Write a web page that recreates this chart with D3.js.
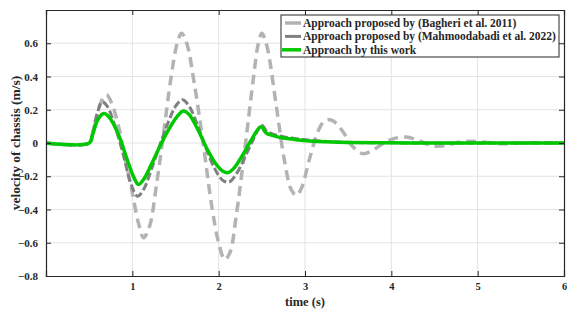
<!DOCTYPE html>
<html>
<head>
<meta charset="utf-8">
<script src="https://cdn.jsdelivr.net/npm/d3@7"></script>
<style>
  body { margin: 0; background: #fff; }
  text { font-family: "Liberation Serif", "Times New Roman", serif; font-weight: bold; fill: #262626; }
</style>
</head>
<body>
<div id="chart"></div>
<script>
// time samples (s) and chassis velocity (m/s)
var tBagheri = [0, 0.5, 0.54, 0.58, 0.64, 0.7, 0.76, 0.84, 0.92, 1.0, 1.07, 1.13, 1.2, 1.28, 1.36, 1.45, 1.52, 1.57, 1.63, 1.72, 1.82, 1.92, 2.0, 2.07, 2.13, 2.2, 2.3, 2.4, 2.46, 2.5, 2.56, 2.66, 2.76, 2.84, 2.9, 2.96, 3.05, 3.15, 3.22, 3.29, 3.36, 3.45, 3.55, 3.67, 3.78, 3.9, 4.02, 4.17, 4.3, 4.42, 4.52, 4.65, 4.8, 4.95, 5.1, 5.25, 5.4, 5.6, 5.8, 6];
var vBagheri = [0, 0, 0.06, 0.15, 0.25, 0.29, 0.24, 0.1, -0.1, -0.3, -0.48, -0.57, -0.5, -0.25, 0.05, 0.4, 0.6, 0.66, 0.6, 0.35, 0.0, -0.38, -0.6, -0.7, -0.66, -0.45, -0.05, 0.38, 0.6, 0.66, 0.58, 0.25, -0.1, -0.28, -0.315, -0.27, -0.1, 0.07, 0.13, 0.14, 0.12, 0.06, -0.02, -0.064, -0.045, -0.005, 0.025, 0.036, 0.018, -0.008, -0.02, -0.012, 0.006, 0.01, 0.004, -0.004, -0.003, 0.002, 0.001, 0];

var tMahmood = [0, 0.5, 0.54, 0.59, 0.65, 0.71, 0.8, 0.9, 0.98, 1.06, 1.13, 1.22, 1.32, 1.42, 1.5, 1.58, 1.66, 1.76, 1.86, 1.96, 2.05, 2.12, 2.2, 2.3, 2.4, 2.5, 2.55, 2.62, 2.75, 2.9, 3.05, 3.3, 3.6, 4.0, 4.5, 5.0, 6];
var vMahmood = [0, 0, 0.06, 0.17, 0.247, 0.22, 0.1, -0.08, -0.24, -0.32, -0.28, -0.16, -0.01, 0.13, 0.22, 0.26, 0.22, 0.1, -0.04, -0.16, -0.225, -0.235, -0.19, -0.09, 0.02, 0.107, 0.075, 0.055, 0.038, 0.026, 0.017, 0.008, 0.003, 0.001, 0, 0, 0];

var tThisWork = [0, 0.5, 0.54, 0.6, 0.67, 0.74, 0.84, 0.94, 1.02, 1.07, 1.13, 1.22, 1.32, 1.42, 1.52, 1.59, 1.66, 1.76, 1.86, 1.96, 2.05, 2.11, 2.18, 2.28, 2.38, 2.49, 2.55, 2.62, 2.75, 2.9, 3.02, 3.25, 3.5, 3.9, 4.5, 5.0, 6];
var vThisWork = [0, 0, 0.05, 0.14, 0.177, 0.15, 0.05, -0.1, -0.21, -0.25, -0.22, -0.13, -0.02, 0.08, 0.16, 0.193, 0.17, 0.08, -0.03, -0.12, -0.17, -0.178, -0.15, -0.07, 0.02, 0.098, 0.06, 0.046, 0.03, 0.02, 0.013, 0.007, 0.003, 0.001, 0, 0, 0];

var seriesNames = ['Approach proposed by (Bagheri et al. 2011)', 'Approach proposed by (Mahmoodabadi et al. 2022)', 'Approach by this work'];
var xTicks = [1, 2, 3, 4, 5, 6];
var yTicks = [-0.8, -0.6, -0.4, -0.2, 0, 0.2, 0.4, 0.6, 0.8];

var width = 567, height = 311;
var margin = { top: 10, right: 3, bottom: 35, left: 46 };
var innerW = width - margin.left - margin.right,
  innerH = height - margin.top - margin.bottom;

var svg = d3.select('#chart').append('svg')
  .attr('width', width)
  .attr('height', height);

var g = svg.append('g')
  .attr('transform', 'translate(' + margin.left + ',' + margin.top + ')');

var x = d3.scaleLinear().domain([0, 6]).range([0, innerW]);
var y = d3.scaleLinear().domain([-0.8, 0.8]).range([innerH, 0]);

// grid
g.append('g').selectAll('line').data(xTicks.slice(0, -1)).enter().append('line')
  .attr('x1', function(d) { return x(d); }).attr('x2', function(d) { return x(d); })
  .attr('y1', 0).attr('y2', innerH)
  .attr('stroke', '#e3e3e3').attr('stroke-width', 1);
g.append('g').selectAll('line').data(yTicks.slice(1, -1)).enter().append('line')
  .attr('y1', function(d) { return y(d); }).attr('y2', function(d) { return y(d); })
  .attr('x1', 0).attr('x2', innerW)
  .attr('stroke', '#e3e3e3').attr('stroke-width', 1);

// series
var series = [
  { t: tBagheri, v: vBagheri, color: '#b3b3b3', width: 3.5, dash: '10,6' },
  { t: tMahmood, v: vMahmood, color: '#808080', width: 3, dash: '8,3' },
  { t: tThisWork, v: vThisWork, color: '#00c800', width: 3.5, dash: null }
];

var line = d3.line()
  .x(function(d) { return x(d[0]); })
  .y(function(d) { return y(d[1]); })
  .curve(d3.curveCatmullRom.alpha(0.5));

series.forEach(function(s) {
  g.append('path')
    .datum(d3.zip(s.t, s.v))
    .attr('d', line)
    .attr('fill', 'none')
    .attr('stroke', s.color)
    .attr('stroke-width', s.width)
    .attr('stroke-dasharray', s.dash);
});

// axes (box with ticks on all sides)
var xAxis = g.append('g')
  .attr('transform', 'translate(0,' + innerH + ')')
  .call(d3.axisBottom(x).tickValues(xTicks).tickSize(-5).tickPadding(7).tickFormat(d3.format('d')));
var xTop = g.append('g')
  .call(d3.axisTop(x).tickValues(xTicks).tickSize(-5).tickFormat(''));
var yAxis = g.append('g')
  .call(d3.axisLeft(y).tickValues(yTicks.slice(0, -1)).tickSize(-5).tickPadding(8)
    .tickFormat(function(d) { return d === 0 ? '0' : d3.format('.1f')(d); }));
var yRight = g.append('g')
  .attr('transform', 'translate(' + innerW + ',0)')
  .call(d3.axisRight(y).tickValues(yTicks).tickSize(-5).tickFormat(''));

[xAxis, xTop, yAxis, yRight].forEach(function(a) {
  a.select('.domain').attr('stroke', '#262626').attr('stroke-width', 1.2);
  a.selectAll('.tick line').attr('stroke', '#262626');
  a.selectAll('text').style('font-size', '11px').attr('font-family', null).attr('fill', '#262626');
});
xAxis.selectAll('text').style('font-size', '10.5px');

// axis labels
svg.append('text')
  .attr('x', margin.left + innerW / 2)
  .attr('y', 306)
  .attr('text-anchor', 'middle')
  .style('font-size', '12.5px')
  .text('time (s)');

svg.append('text')
  .attr('transform', 'translate(20,' + (margin.top + innerH / 2) + ') rotate(-90)')
  .attr('text-anchor', 'middle')
  .style('font-size', '13.5px')
  .text('velocity of chassis (m/s)');

// legend
var legend = svg.append('g').attr('transform', 'translate(281,15)');
legend.append('rect')
  .attr('width', 278).attr('height', 42)
  .attr('fill', '#fff').attr('stroke', '#262626').attr('stroke-width', 1);

var items = legend.selectAll('.legend').data(series).enter().append('g')
  .attr('transform', function(d, i) { return 'translate(0,' + (8 + i * 13.4) + ')'; });

items.append('line')
  .attr('x1', function(d, i) { return i === 2 ? 1 : 4; }).attr('x2', 20)
  .attr('y1', 0).attr('y2', 0)
  .attr('stroke', function(d) { return d.color; })
  .attr('stroke-width', function(d) { return d.width; });

items.append('text')
  .attr('x', 22)
  .attr('y', 4)
  .style('font-size', '11.5px')
  .text(function(d, i) { return seriesNames[i]; });
</script>
</body>
</html>
